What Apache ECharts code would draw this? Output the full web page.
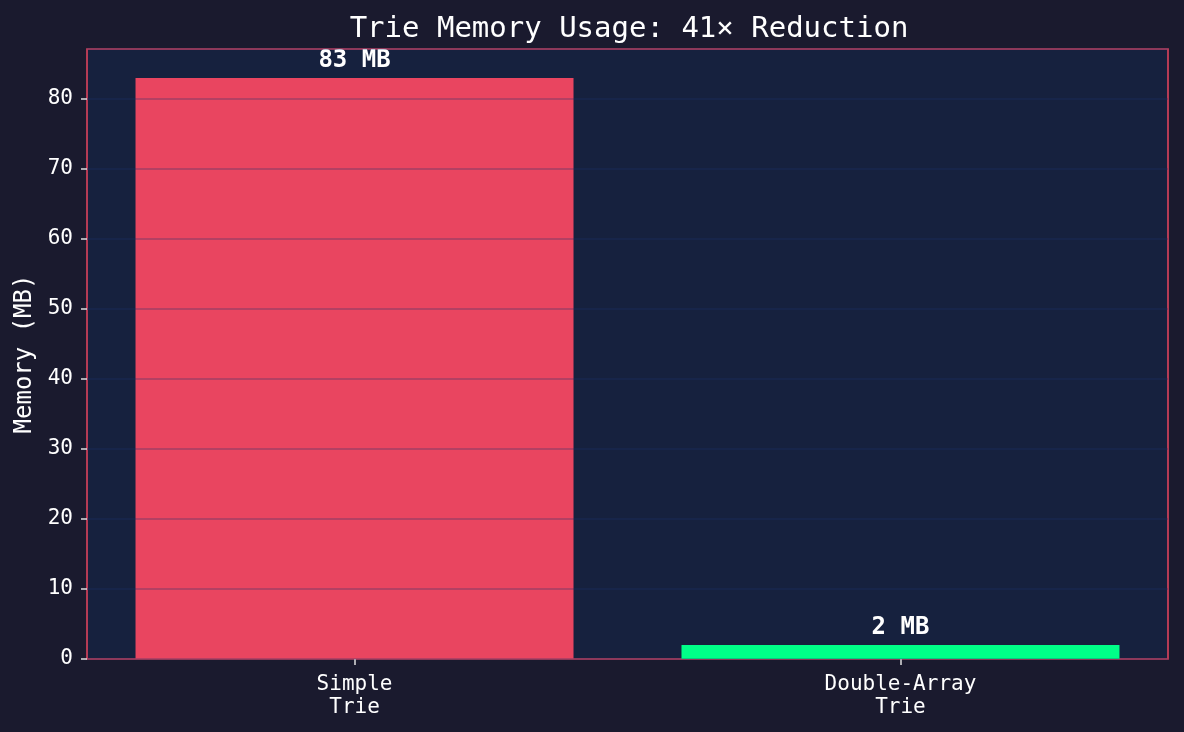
<!DOCTYPE html>
<html><head><meta charset="utf-8">
<script src="https://cdn.jsdelivr.net/npm/echarts@6/dist/echarts.min.js"></script>
<style>html,body{margin:0;padding:0;background:#1a1a2e;}#c{width:1184px;height:732px;}</style>
</head><body><div id="c"></div>
<script>
const categories = ['Simple\nTrie', 'Double-Array\nTrie'];
const memoryMB = [83, 2];
const barColors = ['#e94560', '#00ff88'];
const yTicks = { min: 0, max: 87.15, interval: 10 };
const titleText = 'Trie Memory Usage: 41× Reduction';

const FONT = '"DejaVu Sans Mono", monospace';
const positions = categories.map((c, i) => i);
const chart = echarts.init(document.getElementById('c'));
chart.setOption({
  backgroundColor: '#1a1a2e',
  animation: false,
  title: {
    text: titleText, left: 624, top: 10, textAlign: 'center',
    textStyle: { color: '#ffffff', fontFamily: FONT, fontSize: 29, fontWeight: 'normal' }
  },
  grid: {
    left: 87, right: 16, top: 49, bottom: 73, show: true, containLabel: false,
    outerBoundsMode: 'none',
    backgroundColor: '#16213e', borderColor: '#e94560', borderWidth: 1.5
  },
  xAxis: {
    type: 'value', min: -0.49, max: 1.49,
    axisLine: { show: false, onZero: false },
    splitLine: { show: false },
    axisTick: { show: true, length: 6, customValues: positions, lineStyle: { color: '#e0e0e0', width: 1.5 } },
    axisLabel: { color: '#ffffff', fontFamily: FONT, fontSize: 21, lineHeight: 23, margin: 14,
      customValues: positions, formatter: v => categories[Math.round(v)] }
  },
  yAxis: {
    type: 'value', min: yTicks.min, max: yTicks.max, interval: yTicks.interval, z: 5,
    name: 'Memory (MB)', nameLocation: 'middle', nameGap: 47,
    nameTextStyle: { color: '#ffffff', fontFamily: FONT, fontSize: 24 },
    axisLine: { show: false, onZero: false },
    axisTick: { show: true, length: 6, lineStyle: { color: '#e0e0e0', width: 1.5 } },
    axisLabel: { color: '#ffffff', fontFamily: FONT, fontSize: 21, margin: 14,
      showMaxLabel: false },
    splitLine: { show: true, lineStyle: { color: 'rgba(30,52,110,0.35)', width: 1.5 } }
  },
  series: [{
    type: 'bar', barWidth: 438,
    data: memoryMB.map((v, i) => ({ value: [positions[i], v], itemStyle: { color: barColors[i] } })),
    label: {
      show: true, position: 'top', distance: 5, formatter: p => p.value[1] + ' MB',
      color: '#ffffff', fontFamily: FONT, fontSize: 24, fontWeight: 'bold'
    }
  }]
});
</script></body></html>
